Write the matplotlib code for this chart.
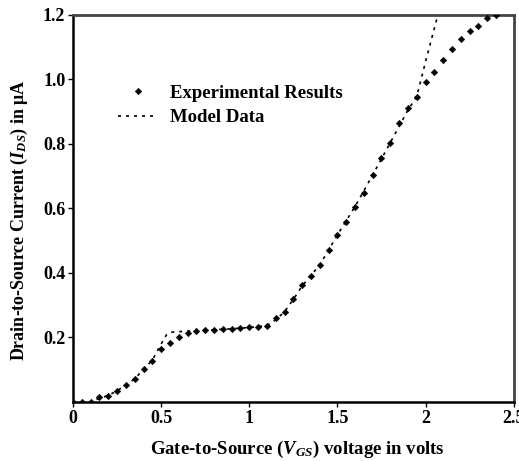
import matplotlib.pyplot as plt

plt.rcParams['font.family'] = 'Liberation Serif'
plt.rcParams['font.weight'] = 'bold'
plt.rcParams['axes.labelweight'] = 'bold'
plt.rcParams['mathtext.fontset'] = 'custom'
plt.rcParams['mathtext.rm'] = 'Liberation Serif:bold'
plt.rcParams['mathtext.it'] = 'Liberation Serif:italic:bold'

# Measured drain current vs gate voltage
vgs_exp = [0.0, 0.05, 0.1, 0.15, 0.2, 0.25, 0.3, 0.35, 0.4, 0.45, 0.5, 0.55,
           0.6, 0.65, 0.7, 0.75, 0.8, 0.85, 0.9, 0.95, 1.0, 1.05, 1.1, 1.15,
           1.2, 1.25, 1.3, 1.35, 1.4, 1.45, 1.5, 1.55, 1.6, 1.65, 1.7, 1.75,
           1.8, 1.85, 1.9, 1.95, 2.0, 2.05, 2.1, 2.15, 2.2, 2.25, 2.3, 2.35, 2.4]
ids_exp = [0.0, 0.0, 0.0, 0.014, 0.02, 0.035, 0.052, 0.072, 0.101, 0.127,
           0.163, 0.183, 0.200, 0.214, 0.220, 0.223, 0.224, 0.226, 0.227,
           0.228, 0.231, 0.233, 0.237, 0.259, 0.280, 0.318, 0.362, 0.390,
           0.425, 0.470, 0.518, 0.559, 0.606, 0.649, 0.704, 0.756, 0.804,
           0.864, 0.911, 0.947, 0.993, 1.024, 1.060, 1.096, 1.125, 1.150,
           1.167, 1.191, 1.200]

# Model curve
vgs_model = [0.0, 0.1, 0.15, 0.2, 0.25, 0.3, 0.35, 0.4, 0.45, 0.5, 0.53, 0.55,
             0.6, 0.7, 0.8, 0.9, 1.0, 1.1, 1.15, 1.2, 1.25, 1.3, 1.4, 1.5,
             1.6, 1.7, 1.8, 1.9, 1.95, 2.0, 2.07]
ids_model = [0.0, 0.0, 0.012, 0.02, 0.035, 0.052, 0.072, 0.101, 0.13, 0.18,
             0.208, 0.216, 0.218, 0.221, 0.224, 0.227, 0.231, 0.237, 0.255,
             0.280, 0.318, 0.36, 0.425, 0.518, 0.606, 0.704, 0.804, 0.905,
             0.947, 1.055, 1.2]

fig = plt.figure(figsize=(5.19, 4.61), dpi=100)
ax = fig.add_axes([0.1407, 0.128, 0.849, 0.8395])

ax.plot(vgs_model, ids_model, color='black', linewidth=1.2,
        dashes=(1.8, 3.0), label='Model Data', zorder=2)
ax.plot(vgs_exp, ids_exp, linestyle='none', marker='D', markersize=3.3,
        markeredgewidth=0.4, color='black', label='Experimental Results',
        zorder=3)

ax.set_xlim(0, 2.5)
ax.set_ylim(0, 1.2)
ax.set_xticks([0, 0.5, 1, 1.5, 2, 2.5])
ax.set_xticklabels(['0', '0.5', '1', '1.5', '2', '2.5'])
ax.set_yticks([0.2, 0.4, 0.6, 0.8, 1.0, 1.2])
ax.set_yticklabels(['0.2', '0.4', '0.6', '0.8', '1.0', '1.2'])
ax.tick_params(labelsize=13, length=3.5, width=1, pad=2)

for side in ['left', 'bottom']:
    ax.spines[side].set_linewidth(1.8)
    ax.spines[side].set_color('black')
for side in ['top', 'right']:
    ax.spines[side].set_linewidth(2.0)
    ax.spines[side].set_color('#444444')

ax.set_xlabel('Gate-to-Source ($V_{GS}$) voltage in volts', fontsize=13.5)
ax.set_ylabel('Drain-to-Source Current ($I_{DS}$) in μA', fontsize=13)
ax.xaxis.set_label_coords(0.51, -0.095)
ax.yaxis.set_label_coords(-0.097, 0.47)

handles, labels = ax.get_legend_handles_labels()
ax.legend(handles[::-1], labels[::-1], loc='upper left',
          bbox_to_anchor=(0.085, 0.84), frameon=False, fontsize=13.5,
          handlelength=2.1, handletextpad=0.7, labelspacing=0.4,
          borderaxespad=0)

fig.savefig('out.png', dpi=100)
